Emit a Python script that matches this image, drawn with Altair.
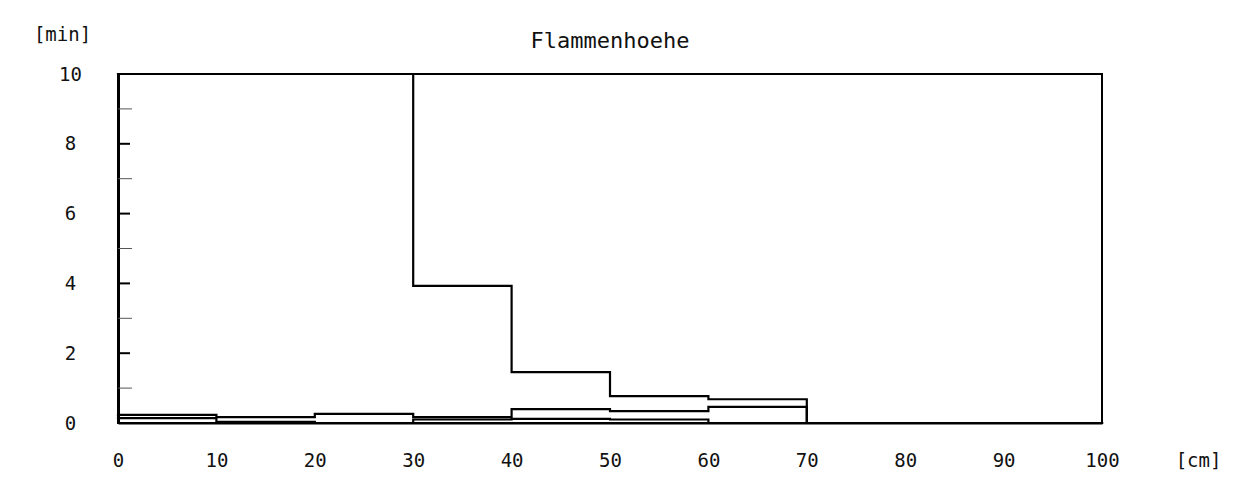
import altair as alt
import pandas as pd

# ---- data ----
x_edges = [0, 10, 20, 30, 40, 50, 60, 70, 80, 90, 100]
kurve_1 = [10, 10, 10, 3.93, 1.46, 0.77, 0.68, 0, 0, 0]
kurve_2 = [0.23, 0.17, 0.26, 0.17, 0.40, 0.34, 0.46, 0, 0, 0]
kurve_3 = [0.14, 0.03, 0.00, 0.10, 0.12, 0.10, 0.00, 0, 0, 0]
series_names = ["Kurve 1", "Kurve 2", "Kurve 3"]

x_tick_values = [0, 10, 20, 30, 40, 50, 60, 70, 80, 90, 100]
y_major_ticks = [0, 2, 4, 6, 8, 10]
y_minor_ticks = [1, 3, 5, 7, 9]

title_text = "Flammenhoehe"
y_unit = "[min]"
x_unit = "[cm]"

FONT = "DejaVu Sans Mono"

rows = []
for name, vals in zip(series_names, [kurve_1, kurve_2, kurve_3]):
    for i, xe in enumerate(x_edges):
        v = vals[min(i, len(vals) - 1)]
        rows.append({"serie": name, "cm": xe, "min": v, "ord": i})
df = pd.DataFrame(rows)

x_scale = alt.Scale(domain=[0, 100], nice=False, zero=True)
y_scale = alt.Scale(domain=[0, 10], nice=False, zero=True)

x_axis = alt.Axis(
    values=x_tick_values, ticks=False, grid=False,
    domainColor="black", domainWidth=2,
    labelFont=FONT, labelFontSize=19, labelColor="#111",
    labelBaseline="alphabetic", labelPadding=43,
    labelFlush=False, labelOverlap=False,
    title=x_unit, titleFont=FONT, titleFontSize=19, titleFontWeight="normal",
    titleColor="#111", titleAngle=0, titleX=1080, titleY=43,
    titleAlign="center", titleBaseline="alphabetic",
)
y_axis = alt.Axis(
    values=y_major_ticks, ticks=False, grid=False,
    domainColor="black", domainWidth=3,
    labelFont=FONT, labelFontSize=19, labelColor="#111",
    labelAlign="center", labelBaseline="middle", labelPadding=48,
    title=y_unit, titleFont=FONT, titleFontSize=19, titleFontWeight="normal",
    titleColor="#111", titleAngle=0, titleX=-56, titleY=-40,
    titleAlign="center", titleBaseline="middle",
)

lines = alt.Chart(df).mark_line(
    interpolate="step-after", color="black", strokeWidth=2.2,
    strokeCap="square", strokeJoin="miter"
).encode(
    x=alt.X("cm:Q", scale=x_scale, axis=x_axis),
    y=alt.Y("min:Q", scale=y_scale, axis=y_axis),
    detail="serie:N",
    order="ord:Q",
)

major = alt.Chart(pd.DataFrame({"v": y_major_ticks})).mark_rule(
    color="black", strokeWidth=2
).encode(y=alt.Y("v:Q", scale=y_scale), x=alt.value(0), x2=alt.value(12))

minor = alt.Chart(pd.DataFrame({"v": y_minor_ticks})).mark_rule(
    color="#555", strokeWidth=1
).encode(y=alt.Y("v:Q", scale=y_scale), x=alt.value(0), x2=alt.value(14))

title = alt.Chart(pd.DataFrame({"t": [title_text]})).mark_text(
    font=FONT, fontSize=22, align="center", baseline="alphabetic", color="#111"
).encode(text="t:N", x=alt.value(492), y=alt.value(-26))

chart = alt.layer(lines, major, minor, title).properties(
    width=984, height=349,
    autosize=alt.AutoSizeParams(type="none"),
    padding={"left": 110, "top": 66, "right": 130, "bottom": 54},
    background="white",
).configure_view(stroke="black", strokeWidth=2)

chart.save("out.html", embed_options={"renderer": "svg", "actions": False})
